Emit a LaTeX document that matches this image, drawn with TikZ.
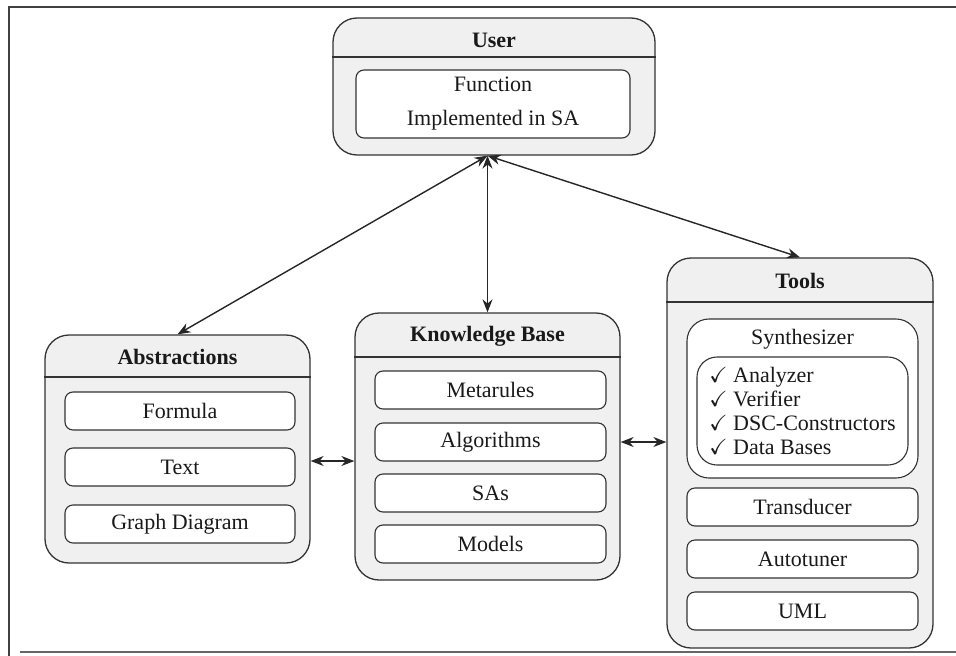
\documentclass[tikz,border=0pt]{standalone}
\usepackage{fontspec}
\setmainfont{LiberationSerif}[Extension=.ttf, UprightFont=*-Regular, BoldFont=*-Bold]
\usepackage{amssymb}
\usetikzlibrary{arrows.meta}

\begin{document}
\begin{tikzpicture} [
        x=1pt, y=-1pt,
        every node/.style={font=\fontsize{22}{26}\selectfont, text=black!90},
        group/.style={draw=black!80, fill=black!6, line width=1.3pt, rounded corners=24pt, inner sep=0pt},
        item/.style={draw=black!80, fill=white, line width=1.1pt, rounded corners=8pt, minimum width=230pt, minimum height=38pt, inner sep=0pt},
        heading/.style={font=\fontsize{22}{26}\selectfont\bfseries},
        link/.style={draw=black!85, line width=1.4pt, {Stealth[length=13pt,width=10pt]}-{Stealth[length=13pt,width=10pt]}},
        frame/.style={draw=black!75, line width=2pt},
    ]
    \useasboundingbox (0,0) rectangle (956,656);
    % page frame
    \draw[frame] (9,656) -- (9,7) -- (956,7);
    \draw[frame, draw=black!60, line width=1.5pt] (20,652) -- (956,652);

    % First we draw the group boxes
    \foreach \pos/\w/\h/\name in {
            {(494,86.5)/322/137/user}, {(177.5,449)/265/228/abs},
            {(487.5,446.5)/265/267/kb}, {(800,453)/266/390/tools}}
        \node[group, minimum width=\w pt, minimum height=\h pt] (\name) at \pos {};
    % header lines and titles
    \foreach \name/\y in {user/57, abs/377, kb/357, tools/302}
        \draw[draw=black!80, line width=1.3pt] (\name.west |- 0,\y) -- (\name.east |- 0,\y);
    \foreach \name/\y/\txt in {user/40/User, abs/357/Abstractions, kb/336/Knowledge Base, tools/281/Tools}
        \node[heading] (\name-title) at (\name |- 0,\y) {\txt};

    % Then the items inside the groups
    \node[item, minimum width=274pt, minimum height=68pt, align=center] (function) at (493,104) {Function\\[8pt]Implemented in SA};
    \foreach \y/\name/\txt in {411/formula/Formula, 467/text/Text, 524/graph/Graph Diagram}
        \node[item] (\name) at (180,\y) {\txt};
    \foreach \y/\name/\txt in {390/meta/Metarules, 442/algo/Algorithms, 493/sas/SAs, 544/models/Models}
        \node[item, minimum width=231pt] (\name) at (490.5,\y) {\txt};
    \node[item, minimum width=231pt, minimum height=159pt, rounded corners=22pt] (synth) at (802.5,398.5) {};
    \node (synth-title) at (802.5,339) {Synthesizer};
    \node[item, minimum width=211pt, minimum height=108pt, rounded corners=20pt, align=left,
          font=\fontsize{22}{24}\selectfont] (checks) at (802.5,411)
        {$\checkmark$ Analyzer\\$\checkmark$ Verifier\\$\checkmark$ DSC-Constructors\\$\checkmark$ Data Bases};
    \foreach \y/\name/\txt in {507/trans/Transducer, 559/auto/Autotuner, 611/uml/UML}
        \node[item, minimum width=231pt] (\name) at (802.5,\y) {\txt};

    % Connect the groups
    \coordinate (hub) at (kb.north |- user.south);
    \foreach \dest in {abs, kb, tools}
        \path[link] (hub) -- (\dest.north);
    \path[link] (abs.east |- 0,461) -- (kb.west |- 0,461);
    \path[link] (kb.east |- 0,442) -- (tools.west |- 0,442);
\end{tikzpicture}
\end{document}
